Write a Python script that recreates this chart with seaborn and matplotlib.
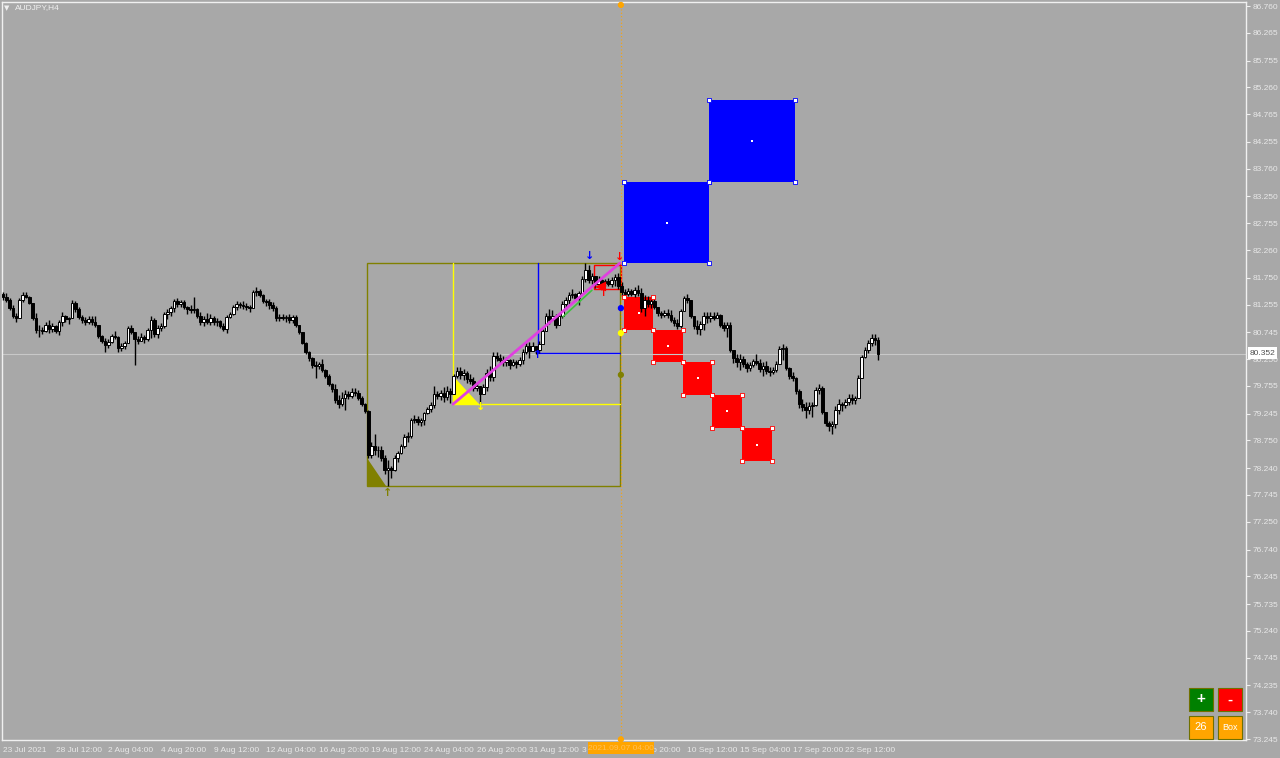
import numpy as np
import pandas as pd
import seaborn as sns
import matplotlib
matplotlib.use('Agg')
import matplotlib.pyplot as plt
from matplotlib.patches import Rectangle, Polygon

# ---- AUDJPY H4, 23 Jul 2021 - 23 Sep 2021 ----
first_open = 81.45

highs = [
    81.49, 81.47, 81.38, 81.25, 81.10, 81.38, 81.49, 81.49, 81.41, 81.28,
    81.10, 80.88, 80.84, 80.93, 80.97, 80.91, 80.88, 80.97, 81.12, 81.06,
    81.03, 81.34, 81.32, 81.21, 81.06, 81.03, 81.04, 81.04, 81.04, 80.88,
    80.69, 80.64, 80.62, 80.71, 80.77, 80.68, 80.55, 80.58, 80.86, 80.88,
    80.73, 80.68, 80.73, 80.69, 80.82, 81.04, 81.01, 80.88, 80.91, 81.12,
    81.17, 81.23, 81.36, 81.38, 81.34, 81.34, 81.23, 81.25, 81.40, 81.19,
    81.12, 81.04, 81.10, 81.08, 81.04, 81.01, 80.97, 80.91, 81.06, 81.12,
    81.25, 81.32, 81.30, 81.32, 81.28, 81.25, 81.52, 81.58, 81.54, 81.45,
    81.36, 81.36, 81.30, 81.23, 81.08, 81.08, 81.06, 81.08, 81.06, 81.06,
    80.88, 80.75, 80.57, 80.40, 80.29, 80.21, 80.20, 80.25, 80.07, 79.98,
    79.81, 79.79, 79.59, 79.64, 79.68, 79.66, 79.72, 79.72, 79.68, 79.57,
    79.44, 79.31, 78.72, 78.87, 78.65, 78.65, 78.48, 78.39, 78.28, 78.48,
    78.56, 78.69, 78.87, 78.91, 79.16, 79.22, 79.20, 79.16, 79.27, 79.37,
    79.46, 79.75, 79.66, 79.68, 79.74, 79.75, 79.72, 79.98, 80.10, 80.10,
    80.07, 80.03, 79.98, 79.92, 79.83, 79.70, 79.79, 80.07, 80.12, 80.38,
    80.38, 80.34, 80.31, 80.29, 80.25, 80.25, 80.23, 80.29, 80.44, 80.57,
    80.57, 80.57, 80.49, 80.58, 80.81, 81.10, 81.17, 81.16, 81.08, 81.10,
    81.32, 81.40, 81.49, 81.54, 81.47, 81.50, 81.78, 82.02, 81.99, 81.84,
    81.76, 81.78, 81.73, 81.73, 81.75, 81.76, 81.82, 81.84, 81.67, 81.54,
    81.56, 81.54, 81.58, 81.62, 81.56, 81.43, 81.41, 81.40, 81.36, 81.21,
    81.14, 81.16, 81.17, 81.16, 81.03, 80.99, 81.17, 81.41, 81.45, 81.34,
    81.04, 80.97, 80.95, 81.12, 81.12, 81.12, 81.12, 81.12, 81.08, 80.93,
    80.93, 80.93, 80.42, 80.34, 80.34, 80.31, 80.20, 80.20, 80.25, 80.34,
    80.25, 80.20, 80.21, 80.10, 80.10, 80.21, 80.49, 80.53, 80.49, 80.10,
    80.01, 79.92, 79.70, 79.51, 79.46, 79.46, 79.46, 79.74, 79.79, 79.75,
    79.27, 79.11, 79.11, 79.39, 79.51, 79.46, 79.51, 79.61, 79.61, 79.57,
    79.96, 80.33, 80.47, 80.60, 80.71, 80.71, 80.66]

lows = [
    81.34, 81.30, 81.16, 81.01, 80.93, 81.01, 81.30, 81.38, 81.27, 80.97,
    80.73, 80.66, 80.71, 80.75, 80.73, 80.75, 80.73, 80.69, 80.86, 80.93,
    80.90, 81.01, 81.12, 80.99, 80.91, 80.88, 80.90, 80.88, 80.84, 80.64,
    80.55, 80.38, 80.45, 80.55, 80.62, 80.38, 80.40, 80.44, 80.57, 80.71,
    80.14, 80.53, 80.58, 80.55, 80.58, 80.64, 80.66, 80.64, 80.77, 80.82,
    80.99, 81.04, 81.12, 81.21, 81.21, 81.17, 81.08, 81.10, 81.10, 81.01,
    80.88, 80.86, 80.90, 80.88, 80.88, 80.86, 80.82, 80.77, 80.73, 81.01,
    81.06, 81.16, 81.19, 81.17, 81.16, 81.12, 81.19, 81.41, 81.40, 81.28,
    81.23, 81.17, 81.14, 80.95, 80.95, 80.97, 80.93, 80.91, 80.91, 80.84,
    80.71, 80.53, 80.34, 80.21, 80.09, 79.90, 80.07, 80.01, 79.90, 79.75,
    79.64, 79.44, 79.35, 79.39, 79.31, 79.51, 79.53, 79.57, 79.50, 79.39,
    79.26, 78.43, 78.43, 78.48, 78.45, 78.37, 78.13, 77.91, 78.06, 78.19,
    78.35, 78.50, 78.61, 78.72, 78.80, 79.07, 79.04, 79.02, 79.04, 79.24,
    79.27, 79.35, 79.51, 79.50, 79.46, 79.50, 79.44, 79.61, 79.90, 79.88,
    79.86, 79.81, 79.79, 79.66, 79.66, 79.42, 79.61, 79.66, 79.85, 79.85,
    80.21, 80.18, 80.12, 80.12, 80.07, 80.12, 80.09, 80.12, 80.16, 80.34,
    80.27, 80.40, 80.34, 80.36, 80.57, 80.77, 80.90, 80.97, 80.82, 80.91,
    81.01, 81.17, 81.27, 81.38, 81.32, 81.25, 81.45, 81.67, 81.65, 81.64,
    81.56, 81.60, 81.62, 81.60, 81.60, 81.58, 81.60, 81.54, 81.41, 81.41,
    81.41, 81.41, 81.40, 81.41, 81.12, 81.04, 81.21, 81.19, 81.17, 81.04,
    81.01, 81.03, 81.01, 80.93, 80.86, 80.81, 80.82, 81.16, 81.28, 81.01,
    80.81, 80.71, 80.69, 80.79, 80.91, 80.93, 80.97, 81.01, 80.84, 80.77,
    80.66, 80.38, 80.18, 80.10, 80.05, 80.10, 80.01, 80.03, 80.10, 80.14,
    80.01, 79.94, 79.98, 79.94, 79.98, 80.01, 80.16, 80.23, 80.05, 79.88,
    79.85, 79.61, 79.35, 79.29, 79.16, 79.24, 79.18, 79.39, 79.61, 79.24,
    79.02, 78.92, 78.87, 78.98, 79.24, 79.29, 79.35, 79.40, 79.42, 79.42,
    79.53, 79.90, 80.27, 80.36, 80.49, 80.51, 80.23]

closes = [
    81.40, 81.34, 81.19, 81.04, 81.01, 81.34, 81.43, 81.40, 81.28, 81.01,
    80.79, 80.79, 80.77, 80.88, 80.81, 80.86, 80.77, 80.93, 81.04, 80.99,
    81.01, 81.28, 81.17, 81.03, 80.97, 80.93, 80.99, 80.93, 80.88, 80.68,
    80.58, 80.51, 80.57, 80.68, 80.66, 80.45, 80.49, 80.55, 80.82, 80.75,
    80.62, 80.58, 80.66, 80.62, 80.79, 80.97, 80.71, 80.82, 80.86, 81.08,
    81.12, 81.19, 81.32, 81.27, 81.30, 81.21, 81.17, 81.16, 81.17, 81.04,
    80.93, 80.99, 80.93, 81.01, 80.93, 80.95, 80.86, 80.81, 81.03, 81.08,
    81.21, 81.27, 81.25, 81.23, 81.21, 81.19, 81.49, 81.50, 81.43, 81.32,
    81.30, 81.25, 81.19, 81.01, 81.03, 81.01, 81.03, 80.97, 81.03, 80.88,
    80.75, 80.55, 80.38, 80.27, 80.14, 80.12, 80.16, 80.05, 79.94, 79.79,
    79.70, 79.50, 79.42, 79.53, 79.61, 79.57, 79.64, 79.63, 79.53, 79.42,
    79.29, 78.48, 78.65, 78.57, 78.57, 78.43, 78.21, 78.24, 78.21, 78.43,
    78.52, 78.65, 78.81, 78.83, 79.13, 79.15, 79.09, 79.13, 79.26, 79.33,
    79.40, 79.61, 79.57, 79.63, 79.55, 79.66, 79.61, 79.94, 80.03, 79.96,
    79.99, 79.88, 79.85, 79.72, 79.75, 79.61, 79.74, 79.99, 79.92, 80.31,
    80.27, 80.23, 80.20, 80.23, 80.14, 80.20, 80.16, 80.23, 80.38, 80.49,
    80.40, 80.49, 80.42, 80.53, 80.77, 81.04, 80.97, 81.04, 80.88, 81.04,
    81.27, 81.34, 81.43, 81.45, 81.38, 81.47, 81.73, 81.89, 81.71, 81.78,
    81.64, 81.71, 81.65, 81.69, 81.64, 81.71, 81.76, 81.60, 81.49, 81.45,
    81.50, 81.45, 81.52, 81.47, 81.19, 81.34, 81.27, 81.32, 81.21, 81.10,
    81.06, 81.10, 81.06, 80.97, 80.91, 80.86, 81.14, 81.38, 81.34, 81.04,
    80.86, 80.81, 80.90, 81.04, 81.01, 81.04, 81.01, 81.06, 80.88, 80.82,
    80.88, 80.42, 80.27, 80.20, 80.25, 80.16, 80.09, 80.14, 80.21, 80.18,
    80.07, 80.12, 80.03, 80.01, 80.05, 80.16, 80.44, 80.45, 80.09, 79.94,
    79.90, 79.66, 79.42, 79.37, 79.31, 79.39, 79.40, 79.68, 79.72, 79.27,
    79.07, 79.02, 79.05, 79.31, 79.42, 79.40, 79.46, 79.53, 79.50, 79.53,
    79.90, 80.29, 80.42, 80.55, 80.64, 80.60, 80.352]

last_price = 80.352

price_ticks = [86.760, 86.265, 85.755, 85.260, 84.765, 84.255, 83.760, 83.250,
               82.755, 82.260, 81.750, 81.255, 80.745, 80.250, 79.755, 79.245,
               78.750, 78.240, 77.745, 77.250, 76.740, 76.245, 75.735, 75.240,
               74.745, 74.235, 73.740, 73.245]

date_ticks = [0, 16, 32, 48, 64, 80, 96, 112, 128, 144, 160, 176, 192, 208, 224, 240, 256]
date_labels = ['23 Jul 2021', '28 Jul 12:00', '2 Aug 04:00', '4 Aug 20:00', '9 Aug 12:00',
               '12 Aug 04:00', '16 Aug 20:00', '19 Aug 12:00', '24 Aug 04:00', '26 Aug 20:00',
               '31 Aug 12:00', '3 Sep 04:00', '7 Sep 20:00', '10 Sep 12:00', '15 Sep 04:00',
               '17 Sep 20:00', '22 Sep 12:00']

# chart objects (bar index / price)
vline_bar = 187.8
vline_label = '2021.09.07 04:00'
olive_box = (110.6, 187.5, 77.91, 82.02)
olive_tri = [(110.6, 78.43), (110.6, 77.91), (116.4, 77.91)]
yellow_tri = [(136.8, 79.94), (136.8, 79.42), (145.0, 79.40)]
yellow_corner = (136.8, 82.02, 79.42)   # x, top, level
blue_corner = (162.6, 82.02, 80.36)
magenta_line = [(136.8, 79.42), (187.5, 82.02)]
green_line = [(170.2, 81.03), (179.0, 81.52)]
red_small_box = (179.6, 187.8, 81.54, 81.99)
red_tri = [(179.8, 81.58), (183.3, 81.68), (183.3, 81.50)]
blue_boxes = [(188.8, 214.6, 82.02, 83.51), (214.6, 240.7, 83.51, 85.03)]
red_boxes = [(188.8, 197.6, 80.79, 81.40), (197.6, 206.7, 80.20, 80.79),
             (206.7, 215.5, 79.59, 80.20), (215.5, 224.6, 78.98, 79.59),
             (224.6, 233.7, 78.37, 78.98)]

# ---- figure ----
BG = '#A8A8A8'
sns.set_style('white', {'axes.facecolor': BG, 'figure.facecolor': BG})
plt.rcParams['font.family'] = ['Liberation Sans', 'DejaVu Sans']

W, H = 1280, 758
fig = plt.figure(figsize=(W / 100, H / 100), dpi=100)
ax = fig.add_axes([2 / W, 1 - 740 / H, (1246 - 2) / W, (740 - 2) / H])
ax.set_facecolor(BG)
ax.set_xlim(-0.3, 377.8)
ax.set_ylim(73.228, 86.834)

df = pd.DataFrame({'high': highs, 'low': lows, 'close': closes})
df['open'] = [first_open] + closes[:-1]
df['bar'] = np.arange(len(df))
body_lo = df[['open', 'close']].min(axis=1)
body_hi = df[['open', 'close']].max(axis=1)
up = df['close'] >= df['open']

# objects behind the candles
for x0, x1, p0, p1 in blue_boxes:
    ax.add_patch(Rectangle((x0, p0), x1 - x0, p1 - p0, facecolor='#0000FF', edgecolor='none', zorder=1))
for x0, x1, p0, p1 in red_boxes:
    ax.add_patch(Rectangle((x0, p0), x1 - x0, p1 - p0, facecolor='#FF0000', edgecolor='none', zorder=1))

x0, x1, p0, p1 = olive_box
ax.add_patch(Rectangle((x0, p0), x1 - x0, p1 - p0, fill=False, edgecolor='#808000', lw=1, zorder=2))
ax.add_patch(Polygon(olive_tri, closed=True, facecolor='#808000', edgecolor='none', zorder=2))
ax.add_patch(Polygon(yellow_tri, closed=True, facecolor='#FFFF00', edgecolor='none', zorder=2))

xs, top, lvl = yellow_corner
ax.plot([xs, xs, x1], [top, lvl, lvl], color='#FFFF00', lw=1, zorder=2)
xs, top, lvl = blue_corner
ax.plot([xs, xs, x1], [top, lvl, lvl], color='#0000FF', lw=1, zorder=2)

r0, r1, q0, q1 = red_small_box
ax.add_patch(Rectangle((r0, q0), r1 - r0, q1 - q0, fill=False, edgecolor='#FF0000', lw=1, zorder=2))
ax.add_patch(Polygon(red_tri, closed=True, facecolor='#FF0000', edgecolor='none', zorder=7))

ax.axhline(last_price, color='#C8C8C8', lw=0.8, zorder=1)
ax.axvline(vline_bar, color='#FFA500', lw=0.8, ls=(0, (1, 2)), zorder=2)

# candles
ax.vlines(df['bar'], np.minimum(df['low'], body_lo), np.maximum(df['high'], body_hi),
          color='black', lw=1.0, zorder=5)
hgt = body_hi - body_lo
ax.bar(df['bar'][up], hgt[up], bottom=body_lo[up], width=0.8, color='white',
       edgecolor='black', linewidth=0.7, zorder=6)
ax.bar(df['bar'][~up], hgt[~up], bottom=body_lo[~up], width=0.8, color='black',
       edgecolor='black', linewidth=0.7, zorder=6)

# trend lines on top
ax.plot(*zip(*green_line), color='#40C040', lw=1.2, zorder=7)
ax.plot(*zip(*magenta_line), color='#E040E0', lw=2, zorder=8)

# corner handles and centre points
def handles(boxes, edge):
    pts = []
    for b0, b1, c0, c1 in boxes:
        pts += [(b0, c0), (b1, c0), (b0, c1), (b1, c1)]
    hp = pd.DataFrame(pts, columns=['x', 'y'])
    sns.scatterplot(data=hp, x='x', y='y', marker='s', s=10, color='white', edgecolor=edge,
                    linewidth=0.6, ax=ax, zorder=9, legend=False)
    cp = pd.DataFrame([((b0 + b1) / 2, (c0 + c1) / 2) for b0, b1, c0, c1 in boxes], columns=['x', 'y'])
    sns.scatterplot(data=cp, x='x', y='y', marker='s', s=4, color='white', edgecolor='white',
                    linewidth=0, ax=ax, zorder=9, legend=False)

handles(blue_boxes, '#0000FF')
handles(red_boxes, '#FF0000')

dots = pd.DataFrame({'x': [vline_bar, vline_bar, vline_bar, vline_bar, vline_bar],
                     'y': [81.19, 80.73, 79.96, 86.78, 73.24],
                     'c': ['#0000FF', '#FFFF00', '#808000', '#FFA500', '#FFA500']})
ax.scatter(dots['x'], dots['y'], s=12, c=dots['c'], zorder=9, clip_on=False)

# arrows
arrows = [(117, 77.79, '↑', '#808000'), (145, 79.36, '↓', '#FFFF00'), (162.6, 80.33, '↑', '#0000FF'),
          (178.2, 82.16, '↓', '#0000FF'), (187.5, 82.14, '↓', '#FF0000'), (182.4, 81.47, '↑', '#FF0000')]
for ab, ap, ch, col in arrows:
    ax.text(ab, ap, ch, color=col, fontsize=8, fontweight='bold', ha='center', va='center',
            family='DejaVu Sans', zorder=10)

# axes styling
for s in ax.spines.values():
    s.set_color('#F0F0F0')
    s.set_linewidth(1)
ax.yaxis.tick_right()
ax.set_yticks(price_ticks)
ax.set_yticklabels([f'{p:.3f}' for p in price_ticks])
ax.set_xticks(date_ticks)
ax.set_xticklabels(date_labels, ha='left')
ax.tick_params(axis='both', colors='#F0F0F0', labelcolor='#E8E8E8', labelsize=6, length=3, width=0.8, pad=2)
ax.set_xlabel('')
ax.set_ylabel('')

# price label and vline time label
fig.patches.append(Rectangle((1248 / W, 1 - 359 / H), 29 / W, 12 / H, transform=fig.transFigure,
                             facecolor='white', edgecolor='none', zorder=5))
fig.text(1262.5 / W, 1 - 353 / H, f'{last_price:.3f}', color='#505050', fontsize=6,
         ha='center', va='center', zorder=6)
fig.patches.append(Rectangle((588 / W, 1 - 754 / H), 66 / W, 12 / H, transform=fig.transFigure,
                             facecolor='#FFA500', edgecolor='none', zorder=5))
fig.text(621 / W, 1 - 748 / H, vline_label, color='#FFBE55', fontsize=6, ha='center', va='center', zorder=6)

# title
fig.text(4 / W, 1 - 8 / H, '▼', color='#F0F0F0', fontsize=5, ha='left', va='center',
         family='DejaVu Sans')
fig.text(15 / W, 1 - 8 / H, 'AUDJPY,H4', color='#F0F0F0', fontsize=6, ha='left', va='center')

# buttons
buttons = [(1189, 688, '#008000', '+', 11), (1218, 688, '#FF0000', '-', 11),
           (1189, 716, '#FFA500', '26', 8), (1218, 716, '#FFA500', 'Box', 6.5)]
for bx, by, col, txt, fs in buttons:
    fig.patches.append(Rectangle((bx / W, 1 - (by + 23) / H), 24 / W, 23 / H, transform=fig.transFigure,
                                 facecolor=col, edgecolor='#707000', lw=0.8, zorder=5))
    fig.text((bx + 12) / W, 1 - (by + 11.5) / H, txt, color='white', fontsize=fs,
             fontweight='bold' if txt in '+-' else 'normal', ha='center', va='center', zorder=6)

fig.savefig('out.png', dpi=100, facecolor=BG)
